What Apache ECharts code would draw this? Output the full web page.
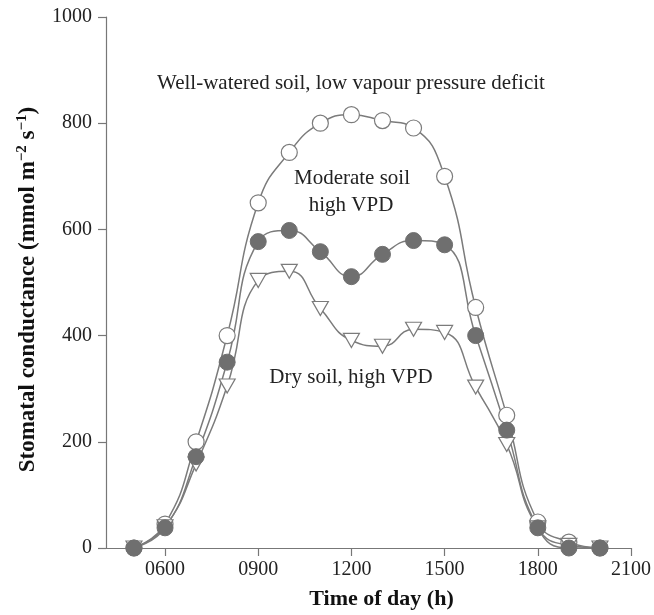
<!DOCTYPE html>
<html>
<head>
<meta charset="utf-8">
<script src="https://cdn.jsdelivr.net/npm/echarts@6/dist/echarts.min.js"></script>
<style>
  html, body { margin: 0; padding: 0; background: #fff; }
  #chart { width: 654px; height: 615px; }
</style>
</head>
<body>
<div id="chart"></div>
<script>
// hours of the day (0500 .. 2000)
const hours = [5, 6, 7, 8, 9, 10, 11, 12, 13, 14, 15, 16, 17, 18, 19, 20]
const wellWatered = [0, 45, 200, 400, 650, 745, 800, 816, 805, 791, 700, 453, 250, 49, 11, 0]
const moderate = [0, 38, 172, 350, 577, 598, 558, 511, 553, 579, 571, 400, 222, 38, 0, 0]
const dry = [0, 40, 158, 305, 504, 521, 451, 391, 380, 412, 406, 303, 195, 38, 5, 0]
const xTicks = [6, 9, 12, 15, 18, 21]

const pairs = (ys) => hours.map((h, i) => [h, ys[i]])
const fmtHour = (v) => String(Math.round(v * 100)).padStart(4, "0")

const chart = echarts.init(document.getElementById("chart"))

const serif = "Liberation Serif"
const lineCol = "#7b7b7b"
const noteFont = "21px 'Liberation Serif'"

const option = {
  backgroundColor: "#fff",
  animation: false,
  textStyle: { fontFamily: serif },
  grid: { left: 106, right: 21, top: 17, bottom: 66 },
  xAxis: {
    type: "value",
    min: 4.1,
    max: 21,
    name: "Time of day (h)",
    nameLocation: "middle",
    nameGap: 40,
    nameTextStyle: { fontFamily: serif, fontSize: 22, fontWeight: "bold", color: "#111", padding: [0, 0, 0, 26] },
    splitLine: { show: false },
    axisLine: { lineStyle: { color: "#777", width: 1.2 } },
    axisTick: { customValues: xTicks, length: 8, lineStyle: { color: "#777", width: 1.2 } },
    axisLabel: { customValues: xTicks, formatter: fmtHour, fontFamily: serif, fontSize: 20, color: "#222", margin: 12 }
  },
  yAxis: {
    type: "value",
    min: 0,
    max: 1000,
    interval: 200,
    name: "{b|Stomatal conductance (mmol m}{s|−2}{b| s}{s|−1}{b|)}",
    nameLocation: "middle",
    nameRotate: 90,
    nameGap: 64,
    nameTextStyle: {
      padding: [0, 14, 0, 0],
      rich: {
        b: { fontFamily: serif, fontSize: 23, fontWeight: "bold", color: "#111" },
        s: { fontFamily: serif, fontSize: 15, fontWeight: "bold", color: "#111", verticalAlign: "bottom", padding: [0, 0, 12, 0] }
      }
    },
    splitLine: { show: false },
    axisLine: { show: true, lineStyle: { color: "#777", width: 1.2 } },
    axisTick: { show: true, length: 8, lineStyle: { color: "#777", width: 1.2 } },
    axisLabel: { formatter: (v) => String(v), fontFamily: serif, fontSize: 20, color: "#222", margin: 14 }
  },
  graphic: [
    { type: "text", x: 351, y: 83, style: { text: "Well-watered soil, low vapour pressure deficit", font: noteFont, fill: "#222", textAlign: "center", textVerticalAlign: "middle" } },
    { type: "text", x: 352, y: 178, style: { text: "Moderate soil", font: noteFont, fill: "#222", textAlign: "center", textVerticalAlign: "middle" } },
    { type: "text", x: 351, y: 205, style: { text: "high VPD", font: noteFont, fill: "#222", textAlign: "center", textVerticalAlign: "middle" } },
    { type: "text", x: 351, y: 377, style: { text: "Dry soil, high VPD", font: noteFont, fill: "#222", textAlign: "center", textVerticalAlign: "middle" } }
  ],
  series: [
    {
      name: "Well-watered",
      type: "line",
      data: pairs(wellWatered),
      smooth: 0.5,
      symbol: "circle",
      symbolSize: 16,
      lineStyle: { color: lineCol, width: 1.5 },
      itemStyle: { color: "#fff", borderColor: lineCol, borderWidth: 1.2 }
    },
    {
      name: "Dry",
      type: "line",
      data: pairs(dry),
      smooth: 0.5,
      symbol: "triangle",
      symbolRotate: 180,
      symbolSize: [16, 14],
      lineStyle: { color: lineCol, width: 1.5 },
      itemStyle: { color: "#fff", borderColor: lineCol, borderWidth: 1.2 }
    },
    {
      name: "Moderate",
      type: "line",
      data: pairs(moderate),
      smooth: 0.5,
      symbol: "circle",
      symbolSize: 16,
      lineStyle: { color: lineCol, width: 1.5 },
      itemStyle: { color: "#6f6f6f", borderColor: "#6f6f6f", borderWidth: 1 }
    }
  ]
}

chart.setOption(option)
</script>
</body>
</html>
